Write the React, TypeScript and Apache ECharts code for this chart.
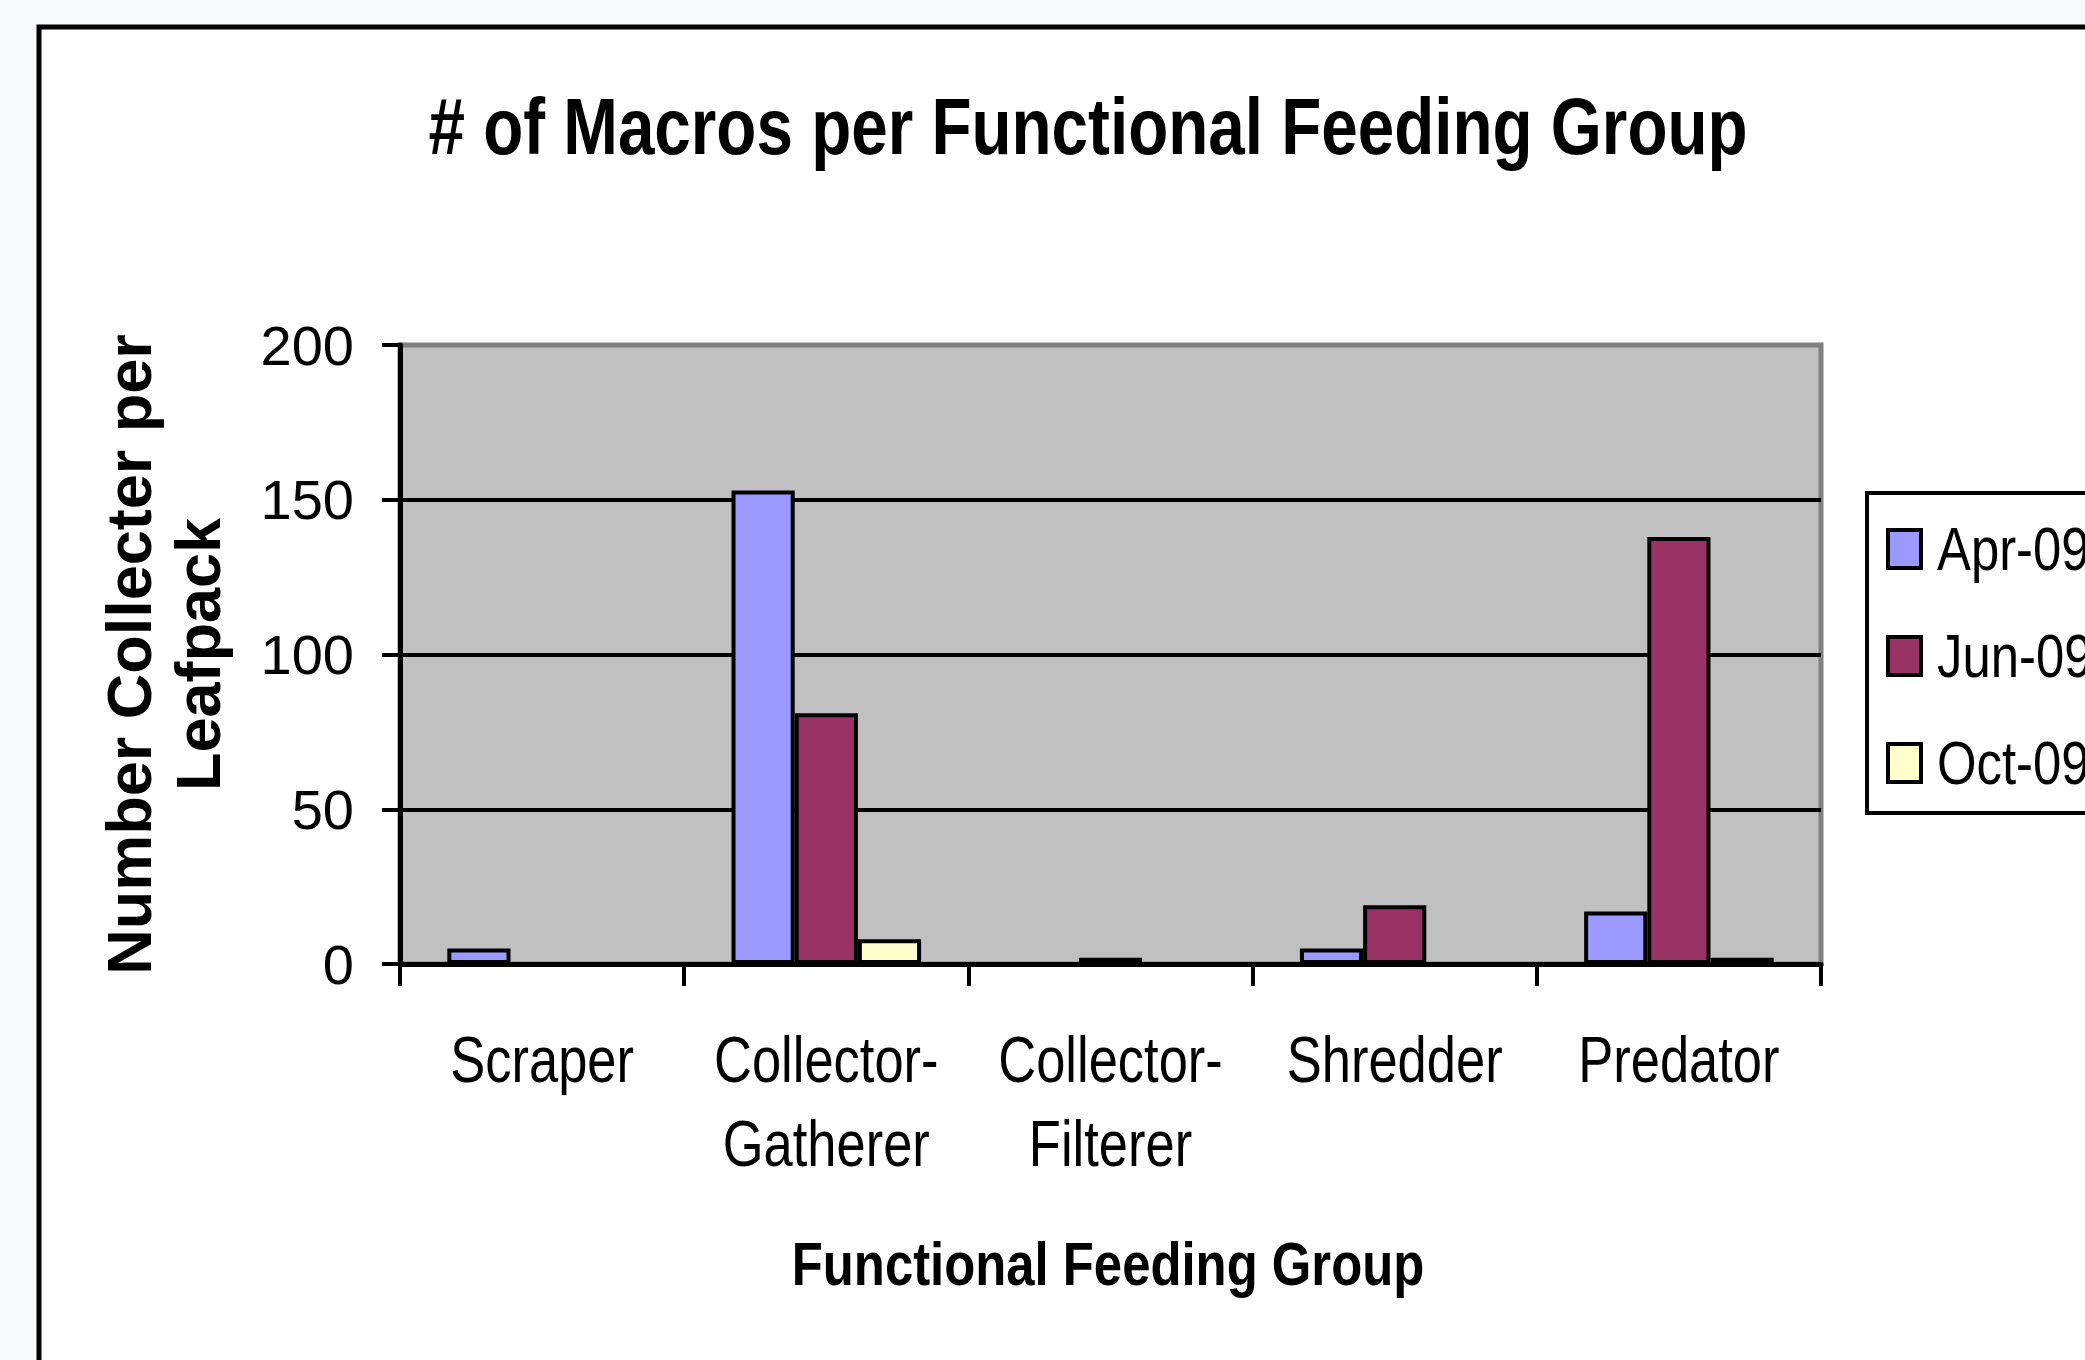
import React, { useEffect, useRef } from "react";
import * as echarts from "echarts";

const categories = ["Scraper", "Collector-\nGatherer", "Collector-\nFilterer", "Shredder", "Predator"];
const seriesNames = ["Apr-09", "Jun-09", "Oct-09"];
const apr09 = [5, 153, 0, 5, 17];
const jun09 = [0, 81, 2, 19, 138];
const oct09 = [0, 8, 0, 0, 2];
const yTicks = { min: 0, max: 200, interval: 50 };
const colors = ["#9999FF", "#993366", "#FFFFCC"];

const FONT = "'Liberation Sans', Arial, sans-serif";
const NARROW_SCALE = 0.82;

function txt(
  text: string,
  x: number,
  y: number,
  size: number,
  bold: boolean,
  align: string,
  vAlign: string,
  lineHeight?: number
) {
  return {
    type: "text",
    x,
    y,
    scaleX: NARROW_SCALE,
    z: 10,
    style: {
      text,
      fontSize: size,
      fontFamily: FONT,
      fontWeight: bold ? "bold" : "normal",
      lineHeight: lineHeight || undefined,
      fill: "#000",
      align,
      verticalAlign: vAlign,
      textAlign: align,
      textVerticalAlign: vAlign,
    },
  };
}

export default function App() {
  const ref = useRef<HTMLDivElement>(null);
  useEffect(() => {
    if (!ref.current) return;
    const chart = echarts.init(ref.current, undefined, { renderer: "svg" });
    const values = [apr09, jun09, oct09];
    chart.setOption({
      animation: false,
      backgroundColor: "#F8F9FB",
      grid: {
        left: 400,
        right: 264,
        top: 345,
        bottom: 396,
        show: true,
        backgroundColor: "#C0C0C0",
        borderColor: "#808080",
        borderWidth: 5,
      },
      xAxis: {
        type: "category",
        data: categories,
        axisLine: { lineStyle: { color: "#000", width: 5 } },
        axisTick: { show: true, length: 22, lineStyle: { color: "#000", width: 4 } },
        axisLabel: { show: false },
      },
      yAxis: {
        type: "value",
        min: yTicks.min,
        max: yTicks.max,
        interval: yTicks.interval,
        name: "Number Collecter per\nLeafpack",
        nameLocation: "middle",
        nameGap: 168,
        nameTextStyle: {
          fontFamily: FONT,
          fontWeight: "bold",
          fontSize: 63,
          lineHeight: 69,
          color: "#000",
          align: "center",
        },
        axisLine: { show: true, lineStyle: { color: "#000", width: 5 } },
        axisTick: { show: true, length: 18, lineStyle: { color: "#000", width: 4 } },
        axisLabel: { fontFamily: FONT, fontSize: 56, color: "#000", margin: 46 },
        splitLine: {
          show: true,
          showMaxLine: false,
          showMinLine: false,
          lineStyle: { color: "#000", width: 4 },
        },
      },
      series: seriesNames.map((n, i) => ({
        name: n,
        type: "bar",
        data: values[i],
        barGap: "0%",
        barCategoryGap: "33.3%",
        itemStyle: { color: colors[i], borderColor: "#000", borderWidth: 4 },
      })),
    });

    const labelEls = categories.map((c, i) => {
      const px = chart.convertToPixel({ xAxisIndex: 0 }, i) as number;
      return txt(c, px, 1018, 64, false, "center", "top", 84);
    });

    const legendEls: any[] = [];
    seriesNames.forEach((n, i) => {
      const cy = 549 + i * 107;
      legendEls.push({
        type: "rect",
        z: 10,
        shape: { x: 1888, y: cy - 19, width: 33, height: 38 },
        style: { fill: colors[i], stroke: "#000", lineWidth: 4 },
      });
      legendEls.push(txt(n, 1937, cy, 62, false, "left", "middle"));
    });

    chart.setOption({
      graphic: [
        {
          type: "rect",
          z: -100,
          shape: { x: 39, y: 27, width: 2200, height: 1500 },
          style: { fill: "#FFFFFF", stroke: "#000", lineWidth: 5 },
        },
        {
          type: "rect",
          z: 5,
          shape: { x: 1867, y: 493, width: 400, height: 320 },
          style: { fill: "#FFFFFF", stroke: "#000", lineWidth: 4 },
        },
        txt("# of Macros per Functional Feeding Group", 1088, 127, 80, true, "center", "middle"),
        txt("Functional Feeding Group", 1108, 1264, 62, true, "center", "middle"),
        ...labelEls,
        ...legendEls,
      ],
    });
    return () => chart.dispose();
  }, []);
  return (
    <div
      ref={ref}
      style={{ position: "absolute", left: 0, top: 0, width: 2085, height: 1360 }}
    />
  );
}
